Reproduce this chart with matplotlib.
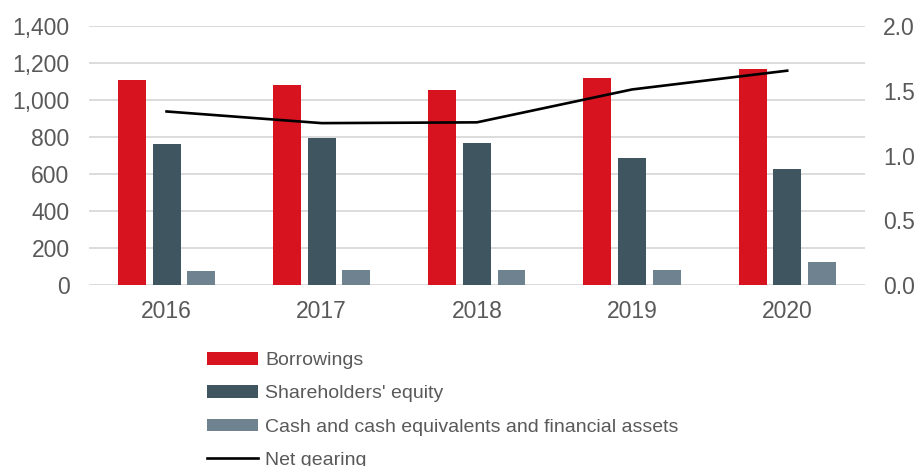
import numpy as np
import matplotlib
matplotlib.use("Agg")
import matplotlib.pyplot as plt
from matplotlib.ticker import FuncFormatter

plt.rcParams['font.family'] = ['Liberation Sans', 'DejaVu Sans']

years = ['2016', '2017', '2018', '2019', '2020']
borrowings = [1106, 1079, 1054, 1117, 1169]
equity = [762, 796, 768, 685, 627]
cash = [76, 81, 81, 81, 123]
net_gearing = [1.34, 1.25, 1.256, 1.51, 1.655]

red = '#D7131F'
dark = '#3F5661'
light = '#6E8290'
txt = '#595959'
grid = '#D9D9D9'

fig = plt.figure(figsize=(9.19, 4.66), dpi=100)
ax = fig.add_axes([0.0968, 0.3884, 0.8442, 0.5558])
ax2 = ax.twinx()

x = np.arange(len(years))
w = 0.18
off = 0.223
b1 = ax.bar(x - off, borrowings, w, color=red, label='Borrowings', zorder=3)
b2 = ax.bar(x, equity, w, color=dark, label="Shareholders' equity", zorder=3)
b3 = ax.bar(x + off, cash, w, color=light,
            label='Cash and cash equivalents and financial assets', zorder=3)
l1, = ax2.plot(x, net_gearing, color='black', lw=1.9, label='Net gearing')

ax.set_xlim(-0.5, len(years) - 0.5)
ax.set_ylim(0, 1400)
ax.set_yticks(range(0, 1401, 200))
ax.yaxis.set_major_formatter(FuncFormatter(lambda v, p: f'{int(v):,}'))
ax2.set_ylim(0, 2.0)
ax2.set_yticks(np.arange(0, 2.01, 0.5))
ax2.yaxis.set_major_formatter(FuncFormatter(lambda v, p: f'{v:.1f}'))
ax.set_xticks(x)
ax.set_xticklabels(years)

ax.grid(axis='y', color=grid, lw=1.3, zorder=0)
ax.set_axisbelow(True)
for a in (ax, ax2):
    for s in a.spines.values():
        s.set_visible(False)
ax.tick_params(axis='y', length=0, pad=14, labelsize=16.5, labelcolor=txt)
ax.tick_params(axis='x', length=0, pad=11, labelsize=16.5, labelcolor=txt)
ax2.tick_params(axis='y', length=0, pad=13, labelsize=16.5, labelcolor=txt)

fig.legend(handles=[b1, b2, b3, l1], loc='upper left',
           bbox_to_anchor=(207 / 919, 1 - 352 / 466), frameon=False,
           fontsize=14, labelcolor=txt, handlelength=2.6, handleheight=0.62,
           handletextpad=0.4, labelspacing=0.83, borderpad=0, borderaxespad=0)

fig.savefig('out.png', dpi=100)
